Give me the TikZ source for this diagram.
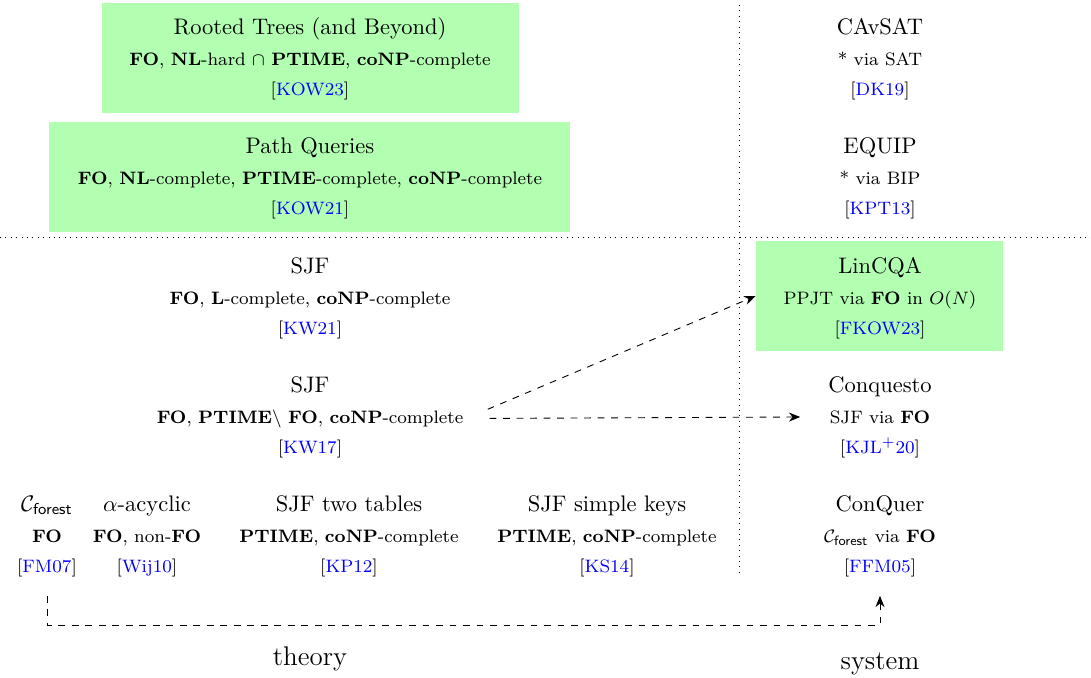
\documentclass[tikz,border=0pt]{standalone}
\usepackage{tikz}
\usepackage{amsmath}
\usepackage{xcolor}
\usetikzlibrary{positioning,arrows.meta}

\newcommand{\Cforest}{\ensuremath{\mathcal{C}_{\textsf{forest}}}}
\newcommand{\Cite}[1]{[\textcolor{blue}{#1}]}
% one entry = name, title, complexity, reference (three baselines)
\newcommand{\Entry}[6]{
	\node[title] (#1) at (#2,#3) {#4};
	\node[info] (#1-i) at (#2,#3+31) {#5};
	\node[info] (#1-c) at (#2,#3+61) {\Cite{#6}};
}

\begin{document}
\begin{tikzpicture}[x=0.01563cm,y=-0.01563cm]
				%\draw[help lines] (0,0) grid (1091,677);
				\tikzset{
				title/.style 	= {anchor=base, inner sep=1pt, font=\normalsize},
				info/.style 	= {anchor=base, inner sep=1pt, font=\footnotesize},
				greenbox/.style = {fill=green!30, inner sep=0pt},
				sep/.style 		= {dotted, line width=0.4pt},
				link/.style 	= {dashed, -{Stealth[length=5pt,width=4pt]}}
				}
				\useasboundingbox (0,0) rectangle (1091,677);
				
				\node[greenbox, minimum width=6.52cm, minimum height=1.72cm] (rooted) at (310.5,58) {};
				\node[greenbox, minimum width=8.14cm, minimum height=1.72cm] (path) at (309.5,177) {};
				\node[greenbox, minimum width=3.86cm, minimum height=1.72cm] (lincqa) at (879.5,296) {};
				
				\draw[sep] (739,5) -- (739,575);
				\draw[sep] (0,237) -- (1091,237);
				
				% theory
				\Entry{kow23}{310}{34}{Rooted Trees (and Beyond)}{\textbf{FO}, \textbf{NL}-hard $\cap$ \textbf{PTIME}, \textbf{coNP}-complete}{KOW23}
				\Entry{kow21}{310}{153}{Path Queries}{\textbf{FO}, \textbf{NL}-complete, \textbf{PTIME}-complete, \textbf{coNP}-complete}{KOW21}
				\Entry{kw21}{310}{273}{SJF}{\textbf{FO}, \textbf{L}-complete, \textbf{coNP}-complete}{KW21}
				\Entry{kw17}{310}{392}{SJF}{\textbf{FO}, \textbf{PTIME}$\setminus$ \textbf{FO}, \textbf{coNP}-complete}{KW17}
				\Entry{fm07}{47}{511}{\Cforest}{\textbf{FO}}{FM07}
				\Entry{wij10}{147}{511}{$\alpha$-acyclic}{\textbf{FO}, non-\textbf{FO}}{Wij10}
				\Entry{kp12}{349}{511}{SJF two tables}{\textbf{PTIME}, \textbf{coNP}-complete}{KP12}
				\Entry{ks14}{607}{511}{SJF simple keys}{\textbf{PTIME}, \textbf{coNP}-complete}{KS14}
				
				% systems
				\Entry{dk19}{880}{34}{CAvSAT}{* via SAT}{DK19}
				\Entry{kpt13}{880}{153}{EQUIP}{* via BIP}{KPT13}
				\Entry{fkow23}{880}{273}{LinCQA}{PPJT via \textbf{FO} in $O(N)$}{FKOW23}
				\Entry{kjl20}{880}{392}{Conquesto}{SJF via \textbf{FO}}{KJL$^+$20}
				\Entry{ffm05}{880}{511}{ConQuer}{\Cforest{} via \textbf{FO}}{FFM05}
				
				\node[anchor=base, font=\large] (theory) at (310,665) {theory};
				\node[anchor=base, font=\large] (system) at (880,669) {system};
				
				\coordinate (turn) at (47,625);
				
				\draw[link, shorten <=0.37cm] (kw17-i.east) -- (lincqa.west);
				\draw[link, shorten <=0.37cm, shorten >=0.42cm] (kw17-i.east) -- (kjl20-i.west);
				\draw[link, shorten <=0.26cm, shorten >=0.26cm] (fm07-c.south) -- (turn) -| (ffm05-c.south);
				\end{tikzpicture}
\end{document}
